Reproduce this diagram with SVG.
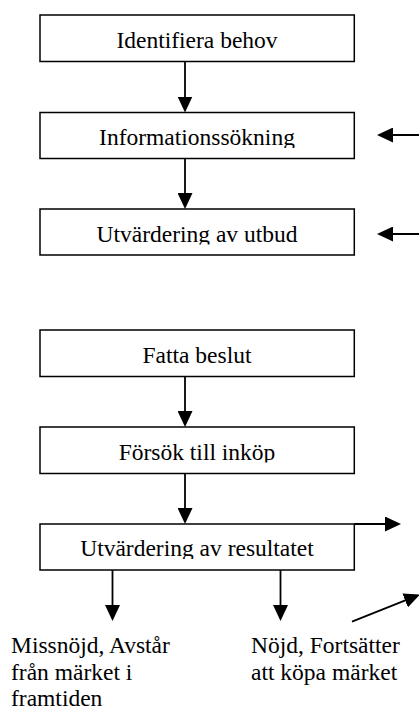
<svg xmlns="http://www.w3.org/2000/svg" width="419" height="709" viewBox="0 0 419 709">
<style>
.box{fill:#fff;stroke:#000;stroke-width:1.5}
.lbl{font-family:"Liberation Serif","Times New Roman",serif;font-size:23.5px;fill:#000}
.c{text-anchor:middle}
.con{stroke:#000;stroke-width:1.8;fill:none;marker-end:url(#ah)}
</style>
<defs>
<marker id="ah" markerUnits="userSpaceOnUse" markerWidth="16" markerHeight="15" refX="13" refY="7.5" orient="auto" viewBox="0 0 16 15">
<path d="M0,0 L16,7.5 L0,15 Z" fill="#000"/>
</marker>
<clipPath id="c1"><rect x="40" y="15" width="314" height="36"/></clipPath>
<clipPath id="c2"><rect x="40" y="112.5" width="314" height="35.5"/></clipPath>
<clipPath id="c3"><rect x="40" y="209" width="314" height="35.5"/></clipPath>
<clipPath id="c4"><rect x="40" y="330" width="314" height="36"/></clipPath>
<clipPath id="c5"><rect x="40" y="427" width="314" height="35.5"/></clipPath>
<clipPath id="c6"><rect x="40" y="524" width="314" height="35"/></clipPath>
</defs>
<rect width="419" height="709" fill="#fff"/>
<g id="n1"><rect class="box" x="40" y="15" width="314.3" height="46.5"/><text class="lbl c" x="197" y="47.5" clip-path="url(#c1)">Identifiera behov</text></g>
<g id="n2"><rect class="box" x="40" y="112.5" width="314.3" height="46"/><text class="lbl c" x="197" y="145" clip-path="url(#c2)">Informationssökning</text></g>
<g id="n3"><rect class="box" x="40" y="209" width="314.3" height="46"/><text class="lbl c" x="197" y="241.5" clip-path="url(#c3)">Utvärdering av utbud</text></g>
<g id="n4"><rect class="box" x="40" y="330" width="314.3" height="46.5"/><text class="lbl c" x="197" y="362.8" clip-path="url(#c4)">Fatta beslut</text></g>
<g id="n5"><rect class="box" x="40" y="427" width="314.3" height="46.5"/><text class="lbl c" x="197" y="459.5" clip-path="url(#c5)">Försök till inköp</text></g>
<g id="n6"><rect class="box" x="40" y="524" width="314.3" height="46"/><text class="lbl c" x="197" y="555.5" clip-path="url(#c6)">Utvärdering av resultatet</text></g>
<g id="n7"><text class="lbl" x="11" y="653">Missnöjd, Avstår</text><text class="lbl" x="11" y="679.5">från märket i</text><text class="lbl" x="11" y="705.5">framtiden</text></g>
<g id="n8"><text class="lbl" x="251" y="653">Nöjd, Fortsätter</text><text class="lbl" x="251" y="679.5">att köpa märket</text></g>
<g id="connectors">
<line class="con" x1="185" y1="61.5" x2="185" y2="109.5"/>
<line class="con" x1="185" y1="158.5" x2="185" y2="206"/>
<line class="con" x1="185" y1="376.5" x2="185" y2="424"/>
<line class="con" x1="185" y1="473.5" x2="185" y2="521"/>
<line class="con" x1="419" y1="135" x2="380" y2="135"/>
<line class="con" x1="419" y1="234" x2="380" y2="234"/>
<line class="con" x1="354" y1="524" x2="398" y2="524"/>
<line class="con" x1="112.5" y1="570" x2="112.5" y2="618"/>
<line class="con" x1="280.5" y1="570" x2="280.5" y2="618"/>
<line class="con" x1="352" y1="621.7" x2="417.2" y2="595.6"/>
</g>
</svg>
